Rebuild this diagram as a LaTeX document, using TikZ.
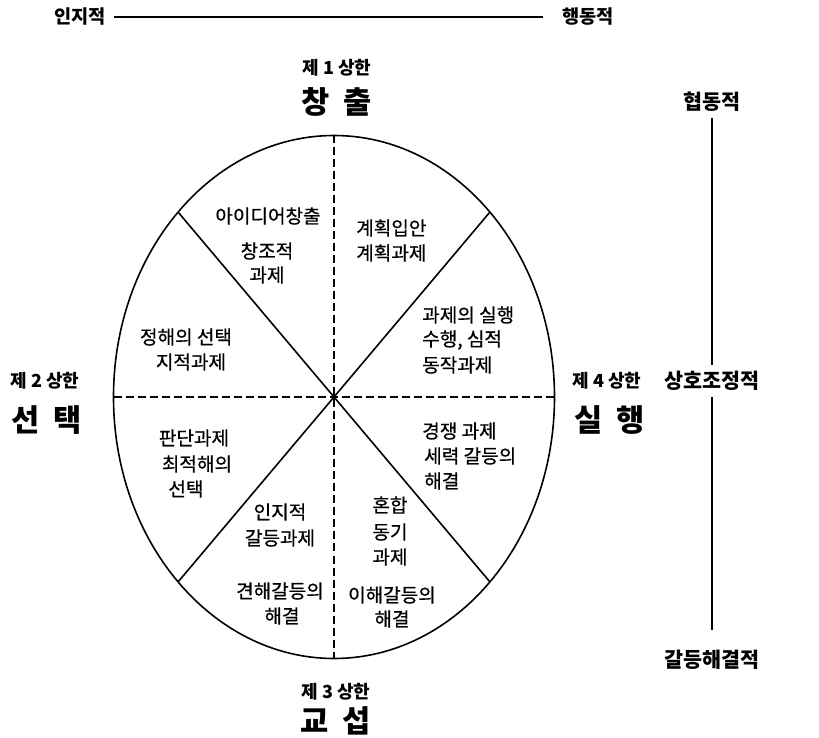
\documentclass[tikz,border=0pt]{standalone}
\usepackage{fontspec}
\setmainfont{Noto Sans CJK KR}
\newfontfamily\krsemi[FakeBold=0.6]{Noto Sans CJK KR}
\begin{document}
\begin{tikzpicture}[x=0.75pt,y=-0.75pt,
  txt/.style={inner sep=0pt,font=\fontsize{14.3}{16}\krsemi},
  ltxt/.style={txt,anchor=west},
  qsmall/.style={inner sep=0pt,font=\fontsize{13.5}{15}\selectfont\bfseries},
  qbig/.style={inner sep=0pt,font=\fontsize{23}{26}\selectfont\bfseries},
  axis/.style={inner sep=0pt,font=\fontsize{14}{16}\selectfont\bfseries},
  raxis/.style={inner sep=0pt,outer sep=5pt,font=\fontsize{15.5}{17}\selectfont\bfseries},
  line/.style={draw,line width=1.2pt},
  dline/.style={draw,line width=1.1pt,dash pattern=on 6pt off 3pt},
  thin/.style={draw,line width=0.9pt}]
\useasboundingbox (0,0) rectangle (819,738);

% top axis
\node[axis] (cog) at (80,17) {인지적};
\node[axis] (beh) at (588,17) {행동적};
\draw[thin] ([xshift=6pt]cog.east) -- ([xshift=-14pt]beh.west);

% right axis
\node[raxis] (coop) at (712,102) {협동적};
\node[raxis] (mutual) at (712,381) {상호조정적};
\node[raxis] (confl) at (712,660) {갈등해결적};
\draw[thin] (coop) -- (mutual);
\draw[thin] (mutual) -- ([yshift=10pt]confl.north);

% ellipse and dividers
\coordinate (C) at (334,397);
\coordinate (top) at (334,135.5);
\coordinate (bot) at (334,658.5);
\coordinate (lft) at (113.5,397);
\coordinate (rgt) at (554.5,397);
\coordinate (ul) at (178.1,212.1);
\coordinate (ur) at (489.9,212.1);
\coordinate (ll) at (178.1,581.9);
\coordinate (lr) at (489.9,581.9);
\draw[line] (C) ellipse [x radius=220.5, y radius=261.5];
\draw[line] (ul) -- (lr);
\draw[line] (ur) -- (ll);
\draw[dline] (top) -- (bot);
\draw[dline] (lft) -- (rgt);

% quadrant labels
\node[qsmall] (q1a) at (337,68) {제 1 상한};
\node[qbig] (q1b) at (337,102) {창\hspace{0.45em}출};
\node[qsmall] (q2a) at (45,381) {제 2 상한};
\node[qbig] (q2b) at (47,420) {선\hspace{0.45em}택};
\node[qsmall] (q4a) at (607,381) {제 4 상한};
\node[qbig] (q4b) at (610,420) {실\hspace{0.45em}행};
\node[qsmall] (q3a) at (336,692) {제 3 상한};
\node[qbig] (q3b) at (336,721) {교\hspace{0.45em}섭};

% sector texts
\node[txt] (a1) at (268,216) {아이디어창출};
\node[txt] (a2) at (267,251) {창조적};
\node[txt] (a3) at (267,275) {과제};
\node[ltxt] (b1) at (356,228) {계획입안};
\node[ltxt] (b2) at (356,253) {계획과제};
\node[ltxt] (c1) at (422,315) {과제의 실행};
\node[ltxt] (c2) at (422,340) {수행, 심적};
\node[ltxt] (c3) at (422,365) {동작과제};
\node[txt] (d1) at (186,337) {정해의 선택};
\node[txt] (d2) at (191,362) {지적과제};
\node[txt] (e1) at (194,438) {판단과제};
\node[txt] (e2) at (197,464) {최적해의};
\node[txt] (e3) at (186,489) {선택};
\node[ltxt] (f1) at (422,431) {경쟁 과제};
\node[ltxt] (f2) at (424,456) {세력 갈등의};
\node[ltxt] (f3) at (424,481) {해결};
\node[txt] (g1) at (280,512) {인지적};
\node[txt] (g2) at (280,538) {갈등과제};
\node[txt] (g3) at (280,591) {견해갈등의};
\node[txt] (g4) at (282,616) {해결};
\node[txt] (h1) at (390,505) {혼합};
\node[txt] (h2) at (390,532) {동기};
\node[txt] (h3) at (390,557) {과제};
\node[txt] (h4) at (392,595) {이해갈등의};
\node[txt] (h5) at (392,619) {해결};
\end{tikzpicture}
\end{document}
